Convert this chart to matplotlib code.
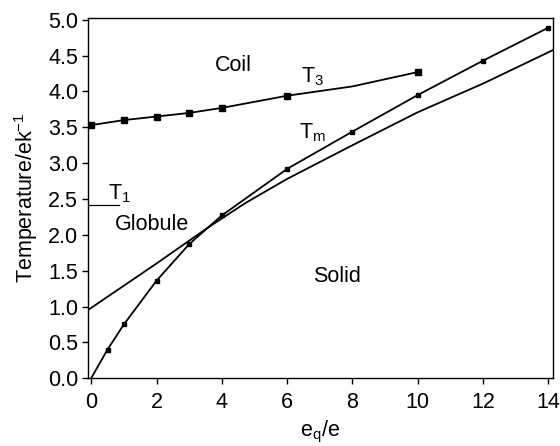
"""Phase diagram: temperature versus e_q/e with coil, globule and solid regions."""

import matplotlib

matplotlib.use("Agg")
import matplotlib.pyplot as plt
import numpy as np

plt.rcParams["font.family"] = ["Liberation Sans", "DejaVu Sans"]
plt.rcParams["mathtext.fontset"] = "custom"
plt.rcParams["mathtext.rm"] = "Liberation Sans"
plt.rcParams["mathtext.it"] = "Liberation Sans"

# coil-globule transition T3 (entry at e_q/e = 8 has no marker)
t3_x = [0, 1, 2, 3, 4, 6, 8, 10]
t3_y = [3.53, 3.60, 3.65, 3.70, 3.77, 3.94, 4.07, 4.27]
t3_marked = [0, 1, 2, 3, 4, 5, 7]

# melting line Tm
tm_x = [0, 0.5, 1, 2, 3, 4, 6, 8, 10, 12, 14]
tm_y = [0.0, 0.40, 0.75, 1.36, 1.87, 2.27, 2.92, 3.44, 3.95, 4.43, 4.89]

# globule-solid boundary
gs_x = [-0.1, 2, 3.54, 4.71, 6, 8, 10, 12, 14.2]
gs_y = [0.95, 1.60, 2.09, 2.44, 2.78, 3.25, 3.71, 4.11, 4.59]

# theta temperature T1 at e_q/e = 0
t1_y = 2.41

x_ticks = np.arange(0, 15, 2)
y_ticks = np.arange(0, 5.01, 0.5)

FS = 15.5


def main() -> None:
    fig = plt.figure(figsize=(5.6, 4.46), dpi=100)
    ax = fig.add_axes([0.157, 0.152, 0.830, 0.807])

    ax.plot(t3_x, t3_y, color="black", lw=1.3, marker="s", ms=5,
            markevery=t3_marked)
    ax.plot(tm_x, tm_y, color="black", lw=1.3, marker="s", ms=3,
            markevery=list(range(1, len(tm_x))))
    ax.plot(gs_x, gs_y, color="black", lw=1.3)
    ax.plot([-0.1, 0.85], [t1_y, t1_y], color="black", lw=0.9)

    ax.set_xlim(-0.1, 14.13)
    ax.set_ylim(0, 5.02)
    ax.set_xticks(x_ticks)
    ax.set_yticks(y_ticks)
    ax.set_yticklabels([f"{v:.1f}" for v in y_ticks])
    ax.tick_params(direction="out", length=4, width=1, labelsize=FS)
    ax.tick_params(axis="x", pad=6)
    ax.tick_params(axis="y", pad=3)
    for sp in ax.spines.values():
        sp.set_linewidth(1.0)

    ax.set_xlabel(r"e$_\mathregular{q}$/e", fontsize=FS, labelpad=4)
    ax.set_ylabel(r"Temperature/ek$^\mathregular{-1}$", fontsize=FS, labelpad=6)

    txt = dict(fontsize=FS, color="black")
    ax.text(4.35, 4.29, "Coil", ha="center", va="baseline", **txt)
    ax.text(1.87, 2.07, "Globule", ha="center", va="baseline", **txt)
    ax.text(7.52, 1.34, "Solid", ha="center", va="baseline", **txt)
    ax.text(6.42, 4.12, r"T$_\mathregular{3}$", ha="left", va="baseline", **txt)
    ax.text(6.35, 3.35, r"T$_\mathregular{m}$", ha="left", va="baseline", **txt)
    ax.text(0.53, 2.49, r"T$_\mathregular{1}$", ha="left", va="baseline", **txt)

    fig.savefig("out.png", dpi=100)
    plt.close(fig)


if __name__ == "__main__":
    main()
